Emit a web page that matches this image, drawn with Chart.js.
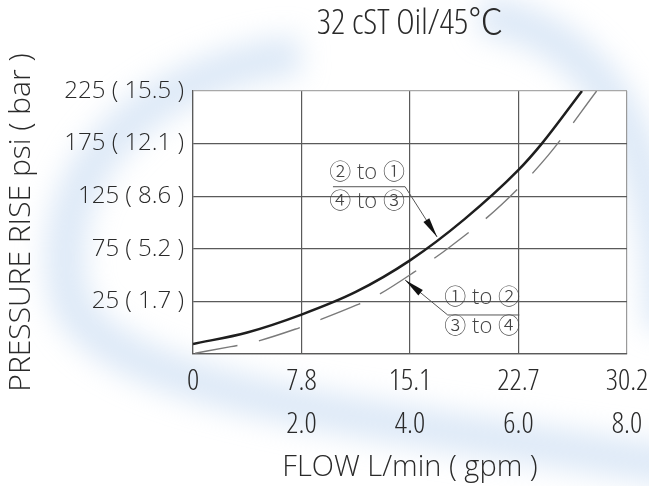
<!DOCTYPE html>
<html lang="en">
<head>
    <meta charset="UTF-8">
    <title>Pressure Rise vs Flow</title>
    <script src="https://cdn.jsdelivr.net/npm/chart.js"></script>
    <style>
        html, body { margin: 0; padding: 0; background: #ffffff; }
    </style>
</head>
<body>
    <canvas id="grafica" width="649" height="486"></canvas>

    <script>
        // Ejes: flujo en gpm (etiquetas tambien en L/min) y presion en psi (bar)
        var lpmLabels = ['0', '7.8', '15.1', '22.7', '30.2'];
        var gpmLabels = ['', '2.0', '4.0', '6.0', '8.0'];
        var psiTicks = [25, 75, 125, 175, 225];
        var psiLabels = ['25 ( 1.7 )', '75 ( 5.2 )', '125 ( 8.6 )', '175 ( 12.1 )', '225 ( 15.5 )'];

        // Curva continua: 2 to 1 / 4 to 3
        var flujoA = [0, 1, 2, 3, 4, 5, 6, 6.43, 7.17];
        var presionA = [-15.5, -4.5, 12.5, 34, 64, 103, 150, 175, 225];

        // Curva discontinua: 1 to 2 / 3 to 4
        var flujoB = [0.04, 0.7, 1.08, 1.88, 2.25, 3.02, 3.39, 4.06, 4.74, 5.7, 6.55, 7.44];
        var presionB = [-24.3, -18, -14.3, -1.5, 5.7, 21.6, 30.5, 52.3, 77, 117.6, 164, 225];

        // Open Sans fina; la anchura cambia segun el texto, como en el plano
        var fuente = "'Open Sans', 'Noto Sans CJK JP', sans-serif";
        var gris = '#2a2a2a';

        function puntos(xs, ys) {
            var out = [];
            for (var i = 0; i < xs.length; i++) {
                out.push({ x: xs[i], y: ys[i] });
            }
            return out;
        }

        // quita el margen extra que pide la ultima etiqueta del eje x
        function sinMargen(s, alto) {
            s.height = alto;
            s.paddingLeft = 0;
            s.paddingRight = 0;
        }

        // Fondo con la marca de agua azul y area blanca del grafico
        var fondo = {
            id: 'fondo',
            beforeDraw: function (chart) {
                var ctx = chart.ctx;
                var a = chart.chartArea;
                ctx.save();
                ctx.fillStyle = '#ffffff';
                ctx.fillRect(0, 0, chart.width, chart.height);
                ctx.filter = 'blur(14px)';
                ctx.strokeStyle = 'rgba(175,202,235,0.42)';
                ctx.lineWidth = 40;
                ctx.beginPath();
                ctx.moveTo(300, 55);
                ctx.bezierCurveTo(150, 70, 40, 170, 70, 300);
                ctx.bezierCurveTo(110, 400, 400, 420, 700, 470);
                ctx.stroke();
                ctx.beginPath();
                ctx.moveTo(480, 15);
                ctx.bezierCurveTo(590, 30, 660, 120, 665, 330);
                ctx.stroke();
                ctx.restore();
                ctx.fillStyle = '#ffffff';
                ctx.fillRect(a.left, a.top, a.right - a.left, a.bottom - a.top);
            }
        };

        // Rotulos con linea guia y flecha
        var rotulos = {
            id: 'rotulos',
            afterDatasetsDraw: function (chart) {
                var ctx = chart.ctx;
                var sx = chart.scales.x;
                var sy = chart.scales.y;
                function px(v) { return sx.getPixelForValue(v); }
                function py(v) { return sy.getPixelForValue(v); }

                function flecha(x0, y0, x1, y1) {
                    var dx = x1 - x0, dy = y1 - y0;
                    var len = Math.sqrt(dx * dx + dy * dy);
                    var ux = dx / len, uy = dy / len;
                    var bx = x1 - ux * 20, by = y1 - uy * 20;
                    ctx.beginPath();
                    ctx.moveTo(x1, y1);
                    ctx.lineTo(bx - uy * 3.5, by + ux * 3.5);
                    ctx.lineTo(bx + uy * 3.5, by - ux * 3.5);
                    ctx.closePath();
                    ctx.fill();
                }

                ctx.save();
                ctx.strokeStyle = '#555';
                ctx.fillStyle = '#111';
                ctx.lineWidth = 1;

                // 2 to 1 / 4 to 3
                ctx.beginPath();
                ctx.moveTo(px(2.58), py(134));
                ctx.lineTo(px(3.91), py(134));
                ctx.lineTo(px(4.5), py(86.2));
                ctx.stroke();
                flecha(px(3.91), py(134), px(4.5), py(86.2));

                // 1 to 2 / 3 to 4
                ctx.beginPath();
                ctx.moveTo(px(6.015), py(12.1));
                ctx.lineTo(px(4.695), py(12.1));
                ctx.lineTo(px(3.91), py(45.3));
                ctx.stroke();
                flecha(px(4.695), py(12.1), px(3.91), py(45.3));

                ctx.fillStyle = '#444';
                ctx.font = "300 22px " + fuente;
                ctx.textAlign = 'center';
                ctx.textBaseline = 'middle';
                ctx.fillText('\u2461 to \u2460', px(3.21), py(147));
                ctx.fillText('\u2463 to \u2462', px(3.21), py(119.5));
                ctx.fillText('\u2460 to \u2461', px(5.33), py(28.2));
                ctx.fillText('\u2462 to \u2463', px(5.33), py(0.7));
                ctx.restore();
            }
        };

        var ctx = document.getElementById('grafica').getContext('2d');
        var grafica = new Chart(ctx, {
            type: 'line',
            data: {
                datasets: [{
                    label: '2 to 1 / 4 to 3',
                    data: puntos(flujoA, presionA),
                    borderColor: '#1e1e1e',
                    borderWidth: 2.5,
                    pointRadius: 0,
                    cubicInterpolationMode: 'monotone'
                }, {
                    label: '1 to 2 / 3 to 4',
                    data: puntos(flujoB, presionB),
                    borderColor: '#7a7a7a',
                    borderWidth: 1.4,
                    borderDash: [43, 22],
                    pointRadius: 0,
                    cubicInterpolationMode: 'monotone'
                }]
            },
            options: {
                responsive: false,
                animation: false,
                devicePixelRatio: 1,
                layout: { padding: { left: 0, right: 22, top: 0, bottom: 0 } },
                plugins: {
                    legend: { display: false },
                    tooltip: { enabled: false },
                    title: {
                        display: true,
                        text: '32 cST Oil/45\u2103',
                        fullSize: false,
                        color: gris,
                        font: { family: fuente, size: 35, weight: '300 condensed' },
                        padding: { top: 3, bottom: 46 }
                    }
                },
                scales: {
                    x: {
                        type: 'linear',
                        position: 'bottom',
                        weight: 0,
                        min: 0,
                        max: 8,
                        ticks: {
                            stepSize: 2,
                            padding: 9,
                            color: gris,
                            font: { family: fuente, size: 30, weight: '300 condensed' },
                            maxRotation: 0,
                            callback: function (v, i) { return lpmLabels[i]; }
                        },
                        grid: {
                            drawTicks: false,
                            lineWidth: 1.2,
                            color: function (c) { return c.index === 4 ? '#9a9a9a' : '#5a5a5a'; }
                        },
                        border: { color: '#5a5a5a', width: 1.2 },
                        afterFit: function (s) { sinMargen(s, 45); }
                    },
                    x2: {
                        type: 'linear',
                        position: 'bottom',
                        weight: 1,
                        min: 0,
                        max: 8,
                        ticks: {
                            stepSize: 2,
                            padding: 7,
                            color: gris,
                            font: { family: fuente, size: 30, weight: '300 condensed' },
                            maxRotation: 0,
                            callback: function (v, i) { return gpmLabels[i]; }
                        },
                        grid: { display: false, drawTicks: false },
                        border: { display: false },
                        title: {
                            display: true,
                            text: 'FLOW L/min ( gpm )',
                            color: gris,
                            font: { family: fuente, size: 29, weight: '300' },
                            padding: { top: 0, bottom: 1 }
                        },
                        afterFit: function (s) { sinMargen(s, 87); }
                    },
                    y: {
                        min: -25,
                        max: 225,
                        ticks: {
                            stepSize: 50,
                            padding: 9,
                            color: gris,
                            font: { family: fuente, size: 24, weight: '300' },
                            callback: function (v) {
                                var i = psiTicks.indexOf(v);
                                return i >= 0 ? psiLabels[i] : '';
                            }
                        },
                        grid: {
                            drawTicks: false,
                            lineWidth: 1.2,
                            color: function (c) { return c.index === 5 ? '#a8a8a8' : '#5a5a5a'; }
                        },
                        border: { color: '#5a5a5a', width: 1.2 },
                        title: {
                            display: true,
                            text: 'PRESSURE RISE psi ( bar )',
                            color: gris,
                            font: { family: fuente, size: 30, weight: '300' },
                            padding: { top: 3, bottom: 0 }
                        },
                        afterFit: function (s) { s.width = 193; }
                    }
                }
            },
            plugins: [fondo, rotulos]
        });
    </script>
</body>
</html>
